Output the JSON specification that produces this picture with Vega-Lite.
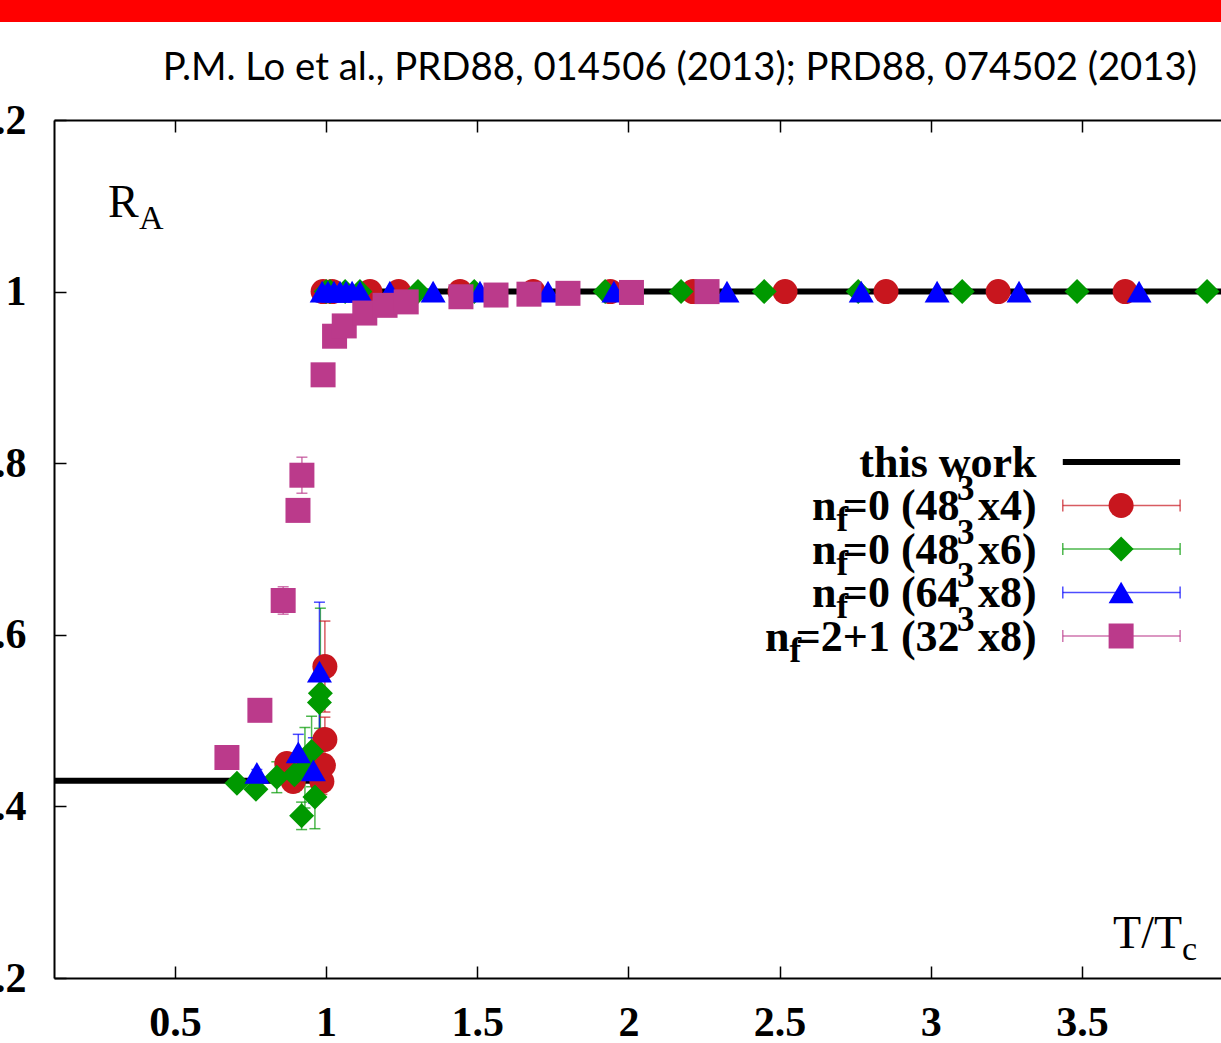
{
"$schema": "https://vega.github.io/schema/vega-lite/v6.json",
"width": 1167,
"height": 858,
"autosize": {"type": "none"},
"padding": {"left": 54, "top": 120, "right": 0, "bottom": 65},
"background": "#ffffff",
"config": {"view": {"stroke": null}},
"datasets": {
"one": [{}],
"thiswork": [
{"x": 0.1, "y": 0.43, "g": "a"}, {"x": 1.0, "y": 0.43, "g": "a"},
{"x": 1.0, "y": 1.0, "g": "b"}, {"x": 3.96, "y": 1.0, "g": "b"}
],
"pts": [
{"s": "48x4", "x": 0.87, "y": 0.45, "lo": 0.438, "hi": 0.462},
{"s": "48x4", "x": 0.891, "y": 0.429, "lo": 0.417, "hi": 0.441},
{"s": "48x4", "x": 0.986, "y": 0.429, "lo": 0.414, "hi": 0.444},
{"s": "48x4", "x": 0.991, "y": 0.448, "lo": 0.428, "hi": 0.468},
{"s": "48x4", "x": 0.996, "y": 0.478, "lo": 0.452, "hi": 0.504},
{"s": "48x4", "x": 0.996, "y": 0.563, "lo": 0.51, "hi": 0.616},
{"s": "48x4", "x": 0.99, "y": 1.0},
{"s": "48x4", "x": 1.02, "y": 1.0},
{"s": "48x4", "x": 1.145, "y": 1.0},
{"s": "48x4", "x": 1.24, "y": 1.0},
{"s": "48x4", "x": 1.443, "y": 1.0},
{"s": "48x4", "x": 1.685, "y": 1.0},
{"s": "48x4", "x": 1.94, "y": 1.0},
{"s": "48x4", "x": 2.214, "y": 1.0},
{"s": "48x4", "x": 2.518, "y": 1.0},
{"s": "48x4", "x": 2.852, "y": 1.0},
{"s": "48x4", "x": 3.223, "y": 1.0},
{"s": "48x4", "x": 3.643, "y": 1.0},
{"s": "48x6", "x": 0.705, "y": 0.427, "lo": 0.422, "hi": 0.432},
{"s": "48x6", "x": 0.768, "y": 0.42, "lo": 0.414, "hi": 0.426},
{"s": "48x6", "x": 0.837, "y": 0.434, "lo": 0.416, "hi": 0.452},
{"s": "48x6", "x": 0.895, "y": 0.437, "lo": 0.417, "hi": 0.457},
{"s": "48x6", "x": 0.919, "y": 0.389, "lo": 0.373, "hi": 0.405},
{"s": "48x6", "x": 0.93, "y": 0.445, "lo": 0.398, "hi": 0.492},
{"s": "48x6", "x": 0.952, "y": 0.464, "lo": 0.423, "hi": 0.505},
{"s": "48x6", "x": 0.963, "y": 0.411, "lo": 0.374, "hi": 0.448},
{"s": "48x6", "x": 0.978, "y": 0.521, "lo": 0.491, "hi": 0.551},
{"s": "48x6", "x": 0.981, "y": 0.532, "lo": 0.433, "hi": 0.631},
{"s": "48x6", "x": 1.0, "y": 1.0},
{"s": "48x6", "x": 1.013, "y": 1.0},
{"s": "48x6", "x": 1.063, "y": 1.0},
{"s": "48x6", "x": 1.112, "y": 1.0},
{"s": "48x6", "x": 1.304, "y": 1.0},
{"s": "48x6", "x": 1.49, "y": 1.0},
{"s": "48x6", "x": 1.923, "y": 1.0},
{"s": "48x6", "x": 2.174, "y": 1.0},
{"s": "48x6", "x": 2.449, "y": 1.0},
{"s": "48x6", "x": 2.76, "y": 1.0},
{"s": "48x6", "x": 3.104, "y": 1.0},
{"s": "48x6", "x": 3.484, "y": 1.0},
{"s": "48x6", "x": 3.914, "y": 1.0},
{"s": "64x8", "x": 0.771, "y": 0.439, "lo": 0.435, "hi": 0.443},
{"s": "64x8", "x": 0.908, "y": 0.463, "lo": 0.442, "hi": 0.484},
{"s": "64x8", "x": 0.958, "y": 0.442, "lo": 0.404, "hi": 0.48},
{"s": "64x8", "x": 0.978, "y": 0.557, "lo": 0.476, "hi": 0.638},
{"s": "64x8", "x": 0.987, "y": 1.0},
{"s": "64x8", "x": 1.006, "y": 1.0},
{"s": "64x8", "x": 1.026, "y": 1.0},
{"s": "64x8", "x": 1.046, "y": 1.0},
{"s": "64x8", "x": 1.066, "y": 1.0},
{"s": "64x8", "x": 1.086, "y": 1.0},
{"s": "64x8", "x": 1.112, "y": 1.0},
{"s": "64x8", "x": 1.211, "y": 1.0},
{"s": "64x8", "x": 1.354, "y": 1.0},
{"s": "64x8", "x": 1.509, "y": 1.0},
{"s": "64x8", "x": 1.734, "y": 1.0},
{"s": "64x8", "x": 1.952, "y": 1.0},
{"s": "64x8", "x": 2.326, "y": 1.0},
{"s": "64x8", "x": 2.77, "y": 1.0},
{"s": "64x8", "x": 3.021, "y": 1.0},
{"s": "64x8", "x": 3.292, "y": 1.0},
{"s": "64x8", "x": 3.689, "y": 1.0},
{"s": "32x8", "x": 0.672, "y": 0.457, "lo": 0.447, "hi": 0.467},
{"s": "32x8", "x": 0.781, "y": 0.512, "lo": 0.504, "hi": 0.52},
{"s": "32x8", "x": 0.858, "y": 0.64, "lo": 0.624, "hi": 0.656},
{"s": "32x8", "x": 0.907, "y": 0.745, "lo": 0.74, "hi": 0.75},
{"s": "32x8", "x": 0.92, "y": 0.786, "lo": 0.765, "hi": 0.807},
{"s": "32x8", "x": 0.99, "y": 0.903},
{"s": "32x8", "x": 1.028, "y": 0.948},
{"s": "32x8", "x": 1.06, "y": 0.96},
{"s": "32x8", "x": 1.128, "y": 0.975},
{"s": "32x8", "x": 1.195, "y": 0.984},
{"s": "32x8", "x": 1.265, "y": 0.988},
{"s": "32x8", "x": 1.446, "y": 0.994},
{"s": "32x8", "x": 1.562, "y": 0.996},
{"s": "32x8", "x": 1.671, "y": 0.997},
{"s": "32x8", "x": 1.8, "y": 0.998},
{"s": "32x8", "x": 2.01, "y": 0.999},
{"s": "32x8", "x": 2.26, "y": 1.0}
],
"legend": [
{"s": "this work", "e": "this work"},
{"s": "48x4", "a": "n", "b": "f", "c": "=0 (48", "d": "3", "e": "x4)"},
{"s": "48x6", "a": "n", "b": "f", "c": "=0 (48", "d": "3", "e": "x6)"},
{"s": "64x8", "a": "n", "b": "f", "c": "=0 (64", "d": "3", "e": "x8)"},
{"s": "32x8", "a": "n", "b": "f", "c": "=2+1 (32", "d": "3", "e": "x8)"}
]
},
"layer": [
{
"data": {"name": "thiswork"},
"mark": {"type": "line", "color": "#000000", "strokeWidth": 6},
"encoding": {
"x": {"field": "x", "type": "quantitative", "scale": {"domain": [0.1, 3.96], "nice": false, "zero": false},
"axis": {"orient": "bottom", "values": [0.5, 1, 1.5, 2, 2.5, 3, 3.5], "format": "~g", "title": null, "grid": false, "domainColor": "#000000", "domainWidth": 2, "tickSize": -12, "tickColor": "#000000", "tickWidth": 1.5, "labelFont": "Liberation Serif", "labelFontSize": 42, "labelFontWeight": "bold", "labelColor": "#000000", "labelPadding": 36, "labelFlush": false, "labelOverlap": false}},
"y": {"field": "y", "type": "quantitative", "scale": {"domain": [0.2, 1.2], "nice": false, "zero": false},
"axis": {"orient": "left", "values": [0.2, 0.4, 0.6, 0.8, 1, 1.2], "format": "~g", "title": null, "grid": false, "domain": true, "domainColor": "#000000", "domainWidth": 2, "ticks": false, "labelFont": "Liberation Serif", "labelFontSize": 42, "labelFontWeight": "bold", "labelColor": "#000000", "labelPadding": 28, "labelFlush": false}},
"detail": {"field": "g"}
}
},
{
"data": {"name": "one"},
"mark": {"type": "rect", "color": "#ff0000"},
"encoding": {
"x": {"datum": -0.0786, "type": "quantitative", "axis": null}, "x2": {"datum": 3.9603},
"y": {"datum": 1.33986, "type": "quantitative", "axis": null}, "y2": {"datum": 1.31422}
}
},
{
"data": {"name": "one"},
"mark": {"type": "text", "text": "P.M. Lo et al., PRD88, 014506 (2013); PRD88, 074502 (2013)", "font": "Lato", "fontSize": 38.3, "align": "right", "baseline": "alphabetic", "color": "#000000"},
"encoding": {
"x": {"datum": 3.8806, "type": "quantitative", "axis": null},
"y": {"datum": 1.2466, "type": "quantitative", "axis": null}
}
},
{
"data": {"name": "pts"},
"transform": [{"filter": "isValid(datum.lo)"}],
"mark": {"type": "rule", "strokeWidth": 1.5, "opacity": 0.7},
"encoding": {
"x": {"field": "x", "type": "quantitative", "axis": null},
"y": {"field": "lo", "type": "quantitative", "axis": {"orient": "right", "offset": -1167, "values": [0.2, 0.4, 0.6, 0.8, 1, 1.2], "title": null, "grid": false, "domain": false, "labels": false, "ticks": true, "tickSize": 12, "tickColor": "#000000", "tickWidth": 1.5}},
"y2": {"field": "hi"},
"color": {"field": "s", "type": "nominal", "scale": {"domain": ["48x4", "48x6", "64x8", "32x8", "this work"], "range": ["#c8161e", "#009900", "#0000ff", "#bb3a8b", "#000000"]}, "legend": null}
}
},
{
"data": {"name": "pts"},
"transform": [{"filter": "isValid(datum.lo)"}],
"mark": {"type": "tick", "orient": "horizontal", "size": 11, "thickness": 1.5, "opacity": 0.7},
"encoding": {
"x": {"field": "x", "type": "quantitative", "axis": null},
"y": {"field": "lo", "type": "quantitative", "axis": null},
"color": {"field": "s", "type": "nominal", "legend": null}
}
},
{
"data": {"name": "pts"},
"transform": [{"filter": "isValid(datum.hi)"}],
"mark": {"type": "tick", "orient": "horizontal", "size": 11, "thickness": 1.5, "opacity": 0.7},
"encoding": {
"x": {"field": "x", "type": "quantitative", "axis": null},
"y": {"field": "hi", "type": "quantitative", "axis": null},
"color": {"field": "s", "type": "nominal", "legend": null}
}
},
{
"data": {"name": "pts"},
"mark": {"type": "point", "filled": true, "opacity": 1, "size": 625},
"encoding": {
"x": {"field": "x", "type": "quantitative", "axis": {"orient": "top", "values": [0.5, 1, 1.5, 2, 2.5, 3, 3.5], "labels": false, "title": null, "grid": false, "domainColor": "#000000", "domainWidth": 2, "tickSize": -12, "tickColor": "#000000", "tickWidth": 1.5}},
"y": {"field": "y", "type": "quantitative", "axis": null},
"color": {"field": "s", "type": "nominal", "legend": null},
"shape": {"field": "s", "type": "nominal", "scale": {"domain": ["48x4", "48x6", "64x8", "32x8"], "range": ["circle", "diamond", "triangle-up", "square"]}, "legend": null}
}
},
{
"data": {"name": "one"},
"mark": {"type": "text", "text": "R", "font": "Liberation Serif", "fontSize": 46, "align": "left", "baseline": "alphabetic", "color": "#000000"},
"encoding": {"x": {"datum": 0.2786, "type": "quantitative", "axis": null}, "y": {"datum": 1.087, "type": "quantitative", "axis": null}}
},
{
"data": {"name": "one"},
"mark": {"type": "text", "text": "A", "font": "Liberation Serif", "fontSize": 34, "align": "left", "baseline": "alphabetic", "color": "#000000"},
"encoding": {"x": {"datum": 0.3812, "type": "quantitative", "axis": null}, "y": {"datum": 1.0729, "type": "quantitative", "axis": null}}
},
{
"data": {"name": "one"},
"mark": {"type": "text", "text": "T/T", "font": "Liberation Serif", "fontSize": 46, "align": "left", "baseline": "alphabetic", "color": "#000000"},
"encoding": {"x": {"datum": 3.603, "type": "quantitative", "axis": null}, "y": {"datum": 0.2346, "type": "quantitative", "axis": null}}
},
{
"data": {"name": "one"},
"mark": {"type": "text", "text": "c", "font": "Liberation Serif", "fontSize": 34, "align": "left", "baseline": "alphabetic", "color": "#000000"},
"encoding": {"x": {"datum": 3.831, "type": "quantitative", "axis": null}, "y": {"datum": 0.2207, "type": "quantitative", "axis": null}}
},
{
"data": {"name": "legend"},
"encoding": {
"y": {"datum": 0.8014, "type": "quantitative", "axis": null},
"yOffset": {"field": "s", "type": "nominal", "scale": {"type": "point", "domain": ["this work", "48x4", "48x6", "64x8", "32x8"], "range": [0, 174], "padding": 0}}
},
"layer": [
{
"transform": [{"filter": "datum.s == 'this work'"}],
"mark": {"type": "rule", "strokeWidth": 6, "color": "#000000"},
"encoding": {"x": {"datum": 3.4367, "type": "quantitative", "axis": null}, "x2": {"datum": 3.8248}}
},
{
"transform": [{"filter": "datum.s != 'this work'"}],
"mark": {"type": "rule", "strokeWidth": 1.5, "opacity": 0.7},
"encoding": {"x": {"datum": 3.4367, "type": "quantitative", "axis": null}, "x2": {"datum": 3.8248}, "color": {"field": "s", "type": "nominal", "legend": null}}
},
{
"transform": [{"filter": "datum.s != 'this work'"}],
"mark": {"type": "tick", "orient": "vertical", "size": 12, "thickness": 1.5, "opacity": 0.7},
"encoding": {"x": {"datum": 3.4367, "type": "quantitative", "axis": null}, "color": {"field": "s", "type": "nominal", "legend": null}}
},
{
"transform": [{"filter": "datum.s != 'this work'"}],
"mark": {"type": "tick", "orient": "vertical", "size": 12, "thickness": 1.5, "opacity": 0.7},
"encoding": {"x": {"datum": 3.8248, "type": "quantitative", "axis": null}, "color": {"field": "s", "type": "nominal", "legend": null}}
},
{
"transform": [{"filter": "datum.s != 'this work'"}],
"mark": {"type": "point", "filled": true, "opacity": 1, "size": 625},
"encoding": {"x": {"datum": 3.6296, "type": "quantitative", "axis": null}, "color": {"field": "s", "type": "nominal", "legend": null}, "shape": {"field": "s", "type": "nominal", "legend": null}}
},
{
"mark": {"type": "text", "font": "Liberation Serif", "fontWeight": "bold", "fontSize": 44, "align": "right", "baseline": "alphabetic", "dy": 15, "color": "#000000"},
"encoding": {"x": {"datum": 3.35, "type": "quantitative", "axis": null}, "text": {"field": "e"}}
},
{
"transform": [{"filter": "datum.s != 'this work'"}],
"mark": {"type": "text", "font": "Liberation Serif", "fontWeight": "bold", "fontSize": 35, "align": "right", "baseline": "alphabetic", "dx": -62, "dy": -5, "color": "#000000"},
"encoding": {"x": {"datum": 3.35, "type": "quantitative", "axis": null}, "text": {"field": "d"}}
},
{
"transform": [{"filter": "datum.s != 'this work'"}],
"mark": {"type": "text", "font": "Liberation Serif", "fontWeight": "bold", "fontSize": 44, "align": "right", "baseline": "alphabetic", "dx": -77, "dy": 15, "color": "#000000"},
"encoding": {"x": {"datum": 3.35, "type": "quantitative", "axis": null}, "text": {"field": "c"}}
},
{
"transform": [{"filter": "datum.s != 'this work' && datum.s != '32x8'"}],
"mark": {"type": "text", "font": "Liberation Serif", "fontWeight": "bold", "fontSize": 44, "align": "right", "baseline": "alphabetic", "dx": -200, "dy": 15, "color": "#000000"},
"encoding": {"x": {"datum": 3.35, "type": "quantitative", "axis": null}, "text": {"field": "a"}}
},
{
"transform": [{"filter": "datum.s != 'this work' && datum.s != '32x8'"}],
"mark": {"type": "text", "font": "Liberation Serif", "fontWeight": "bold", "fontSize": 35, "align": "left", "baseline": "alphabetic", "dx": -200, "dy": 26, "color": "#000000"},
"encoding": {"x": {"datum": 3.35, "type": "quantitative", "axis": null}, "text": {"field": "b"}}
},
{
"transform": [{"filter": "datum.s == '32x8'"}],
"mark": {"type": "text", "font": "Liberation Serif", "fontWeight": "bold", "fontSize": 44, "align": "right", "baseline": "alphabetic", "dx": -247, "dy": 15, "color": "#000000"},
"encoding": {"x": {"datum": 3.35, "type": "quantitative", "axis": null}, "text": {"field": "a"}}
},
{
"transform": [{"filter": "datum.s == '32x8'"}],
"mark": {"type": "text", "font": "Liberation Serif", "fontWeight": "bold", "fontSize": 35, "align": "left", "baseline": "alphabetic", "dx": -247, "dy": 26, "color": "#000000"},
"encoding": {"x": {"datum": 3.35, "type": "quantitative", "axis": null}, "text": {"field": "b"}}
}
]
}
],
"resolve": {"axis": {"x": "independent", "y": "independent"}}
}
